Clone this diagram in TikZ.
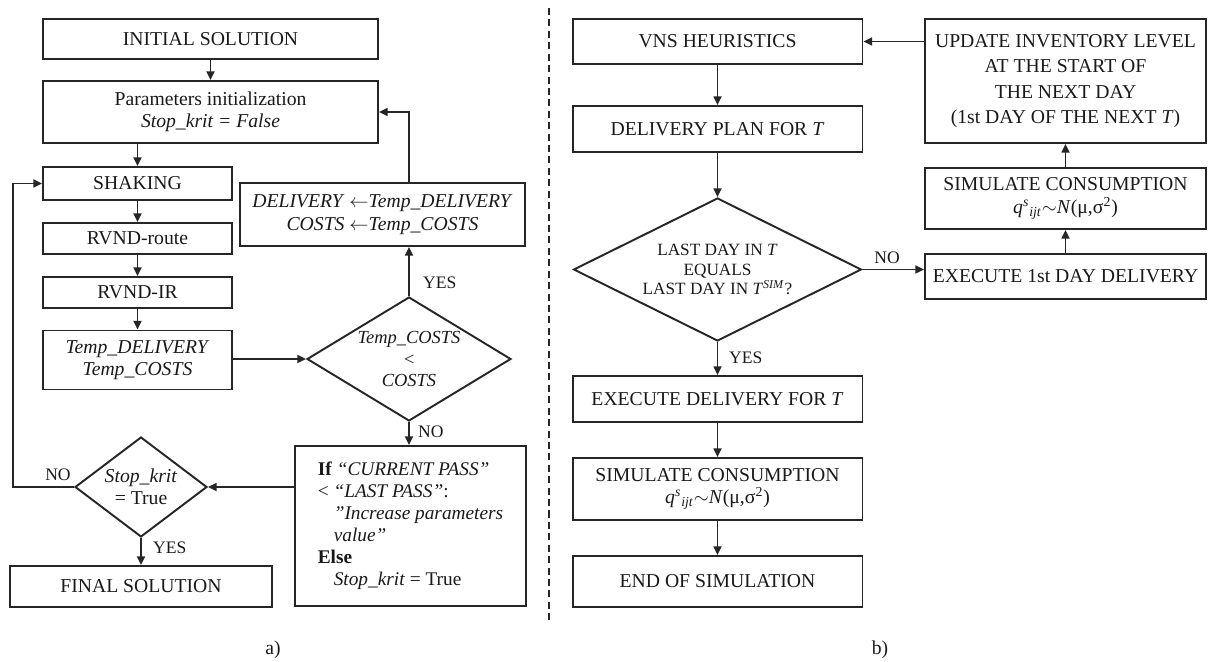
\documentclass[tikz,border=0pt]{standalone}
\usepackage{fontspec}
\setmainfont{Liberation Serif}
\usetikzlibrary{arrows.meta,shapes.geometric}

\begin{document}
\begin{tikzpicture}[x=0.02cm,y=-0.02cm,
	every node/.style={font=\fontsize{11.2}{12.8}\selectfont,text=black!90},
	box/.style={draw=black!85,line width=1.1pt,align=center,inner sep=2pt},
	dec/.style={draw=black!85,line width=1.1pt,shape=diamond,align=center,inner sep=0pt},
	flow/.style={draw=black!85,line width=1.1pt,-{Triangle[length=5pt,width=4.5pt]}},
	lbl/.style={font=\fontsize{10}{12}\selectfont}]
				\useasboundingbox (0,0) rectangle (1210,662);
				
				% a) VNS with shaking and RVND
				\node[box,minimum width=6.7cm,minimum height=0.8cm] (init) at (210.5,39) {INITIAL SOLUTION};
				\node[box,minimum width=6.7cm,minimum height=1.24cm] (param) at (210.5,112) {Parameters initialization\\ \textit{Stop\_krit = False}};
				\node[box,minimum width=3.78cm,minimum height=0.66cm] (shake) at (137.5,183.5) {SHAKING};
				\node[box,minimum width=3.78cm,minimum height=0.62cm] (route) at (137.5,238.5) {RVND-route};
				\node[box,minimum width=3.78cm,minimum height=0.62cm] (ir) at (137.5,292.5) {RVND-IR};
				\node[box,minimum width=3.78cm,minimum height=1.18cm] (temp) at (137.5,360) {\textit{Temp\_DELIVERY}\\ \textit{Temp\_COSTS}};
				\node[dec,aspect=1.65,minimum width=4.08cm,minimum height=2.48cm,font=\fontsize{10.5}{12.5}\selectfont] (cmp) at (409,359) {\textit{Temp\_COSTS}\\ \textit{<}\\ \textit{COSTS}};
				\node[box,minimum width=5.7cm,minimum height=1.26cm] (swap) at (382.5,214.5) {\textit{DELIVERY} $\leftarrow$\textit{Temp\_DELIVERY}\\ \textit{COSTS} $\leftarrow$\textit{Temp\_COSTS}};
				\node[box,align=left,minimum width=4.62cm,minimum height=3.2cm,font=\fontsize{11}{12.5}\selectfont] (rule) at (410.5,526) {\textbf{If} \textit{“CURRENT PASS”}\\ < \textit{“LAST PASS”}:\\ \hspace*{0.32cm}\textit{"Increase parameters}\\ \hspace*{0.32cm}\textit{value"}\\ \textbf{Else}\\ \hspace*{0.32cm}\textit{Stop\_krit} = True};
				\node[dec,aspect=1.32,minimum width=2.64cm,minimum height=2cm] (stop) at (141,487) {\textit{Stop\_krit}\\ = True};
				\node[box,minimum width=5.24cm,minimum height=0.82cm] (final) at (141,586.5) {FINAL SOLUTION};
				
				\draw[flow] (init.south) -- (param.north);
				\draw[flow] (shake.north |- param.south) -- (shake.north);
				\draw[flow] (shake.south) -- (route.north);
				\draw[flow] (route.south) -- (ir.north);
				\draw[flow] (ir.south) -- (temp.north);
				\draw[flow] (temp.east |- cmp.west) -- (cmp.west);
				\draw[flow] (cmp.north) -- (cmp.north |- swap.south);
				\draw[flow] (cmp.north |- swap.north) |- (param.east);
				\draw[flow] (cmp.south) -- (cmp.south |- rule.north);
				\draw[flow] (rule.west |- stop.east) -- (stop.east);
				\draw[flow] (stop.west) -- ++(-61,0) |- (shake.west);
				\draw[flow] (stop.south) -- (final.north);
				
				\node[lbl,anchor=west] (yes1) at (417,283) {YES};
				\node[lbl,anchor=west] (no1) at (412,432) {NO};
				\node[lbl] (no2) at (58,475) {NO};
				\node[lbl,anchor=west] (yes2) at (147,548) {YES};
				
				% separator
				\draw[black!85,line width=0.9pt,dash pattern=on 4pt off 2.5pt] (549,8) -- (549,622);
				
				% b) simulation loop
				\node[box,minimum width=5.8cm,minimum height=0.9cm] (vns) at (717.5,41.5) {VNS HEURISTICS};
				\node[box,minimum width=5.8cm,minimum height=0.92cm] (plan) at (717.5,129) {DELIVERY PLAN FOR \textit{T}};
				\node[dec,aspect=2,minimum width=5.76cm,minimum height=2.86cm,font=\fontsize{9.8}{11.3}\selectfont] (last) at (717.5,269.5) {LAST DAY IN \textit{T}\\ EQUALS\\ LAST DAY IN \textit{T}\textsuperscript{\textit{SIM}}?};
				\node[box,minimum width=5.8cm,minimum height=0.92cm] (exec) at (717.5,399) {EXECUTE DELIVERY FOR \textit{T}};
				\node[box,minimum width=5.8cm,minimum height=1.24cm] (sim) at (717.5,489) {SIMULATE CONSUMPTION\\ \textit{q}\textsuperscript{\textit{s}}\textsubscript{\textit{ijt}}$\sim$\textit{N}(μ,σ\textsuperscript{2})};
				\node[box,minimum width=5.8cm,minimum height=1.02cm] (endsim) at (717.5,581.5) {END OF SIMULATION};
				\node[box,minimum width=5.62cm,minimum height=2.48cm,font=\fontsize{11.2}{14.5}\selectfont] (inv) at (1065.5,81) {UPDATE INVENTORY LEVEL\\ AT THE START OF\\ THE NEXT DAY\\ (1st DAY OF THE NEXT \textit{T})};
				\node[box,minimum width=5.62cm,minimum height=1.22cm] (sim2) at (1065.5,198.5) {SIMULATE CONSUMPTION\\ \textit{q}\textsuperscript{\textit{s}}\textsubscript{\textit{ijt}}$\sim$\textit{N}(μ,σ\textsuperscript{2})};
				\node[box,minimum width=5.62cm,minimum height=0.9cm] (exec1) at (1065.5,276.5) {EXECUTE 1st DAY DELIVERY};
				
				\draw[flow] (vns.south) -- (plan.north);
				\draw[flow] (plan.south) -- (last.north);
				\draw[flow] (last.south) -- (exec.north);
				\draw[flow] (exec.south) -- (sim.north);
				\draw[flow] (sim.south) -- (endsim.north);
				\draw[flow] (last.east) -- (last.east -| exec1.west);
				\draw[flow] (exec1.north) -- (sim2.south);
				\draw[flow] (sim2.north) -- (inv.south);
				\draw[flow] (inv.west |- vns.east) -- (vns.east);
				
				\node[lbl] (no3) at (887,258) {NO};
				\node[lbl,anchor=west] (yes3) at (723,358) {YES};
				
				\node (capa) at (273,650) {a)};
				\node (capb) at (880,650) {b)};
			\end{tikzpicture}
\end{document}
